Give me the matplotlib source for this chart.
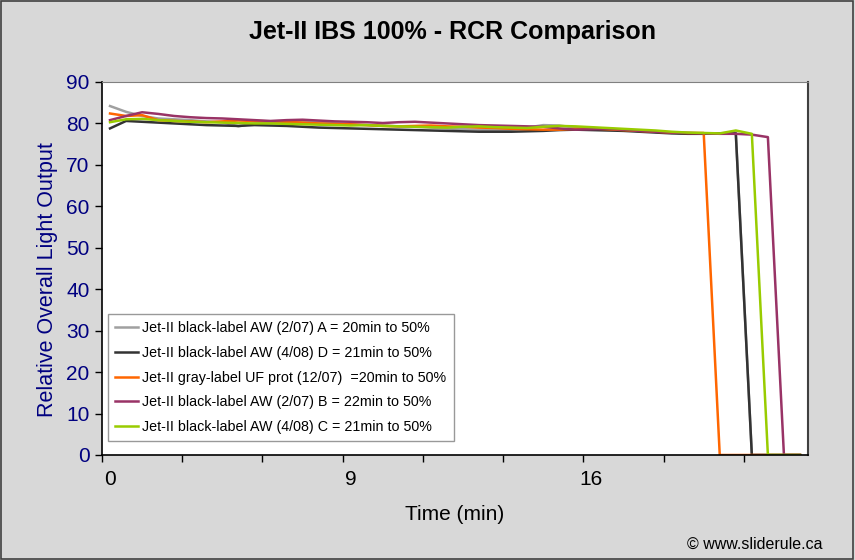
import numpy as np
import matplotlib
matplotlib.use("Agg")
import matplotlib.pyplot as plt
from matplotlib.patches import Rectangle

plt.rcParams['font.family'] = ['Liberation Sans', 'DejaVu Sans']

# time labels shown on the category axis (sample index -> minutes)
label_idx = [0, 15, 30]
label_txt = ['0', '9', '16']

names = [
    'Jet-II black-label AW (2/07) A = 20min to 50%',
    'Jet-II black-label AW (4/08) D = 21min to 50%',
    'Jet-II gray-label UF prot (12/07)  =20min to 50%',
    'Jet-II black-label AW (2/07) B = 22min to 50%',
    'Jet-II black-label AW (4/08) C = 21min to 50%',
]
colors = ['#a0a0a0', '#333333', '#ff6600', '#993366', '#99cc00']

# relative light output per sample (44 samples each)
gray_a = [84.2, 82.8, 81.8, 81.2, 81.0, 80.8, 80.5, 80.3, 79.3, 80.0, 80.2, 80.4, 80.6, 80.3, 80.0,
          79.8, 79.6, 79.5, 79.3, 79.2, 79.0, 78.8, 78.6, 78.5, 78.4, 78.5, 79.0, 79.6, 79.5, 79.0,
          78.8, 78.6, 78.4, 78.2, 78.0, 77.8, 77.6, 77.5, 77.6, 77.8, 0, 0, 0, 0]
black_d = [78.8, 80.6, 80.4, 80.2, 80.0, 79.8, 79.6, 79.5, 79.4, 79.6, 79.5, 79.4, 79.2, 79.0, 78.9,
           78.8, 78.7, 78.6, 78.5, 78.4, 78.3, 78.2, 78.1, 78.0, 78.0, 78.0, 78.1, 78.2, 78.4, 78.5,
           78.4, 78.3, 78.2, 78.0, 77.8, 77.6, 77.5, 77.5, 77.6, 77.6, 0, 0, 0, 0]
orange = [82.4, 81.8, 82.0, 80.8, 80.6, 80.5, 80.3, 80.5, 80.7, 80.6, 80.5, 80.4, 80.2, 80.0, 79.9,
          79.8, 79.6, 79.4, 79.3, 79.4, 79.5, 79.3, 79.2, 79.0, 78.9, 78.7, 78.6, 78.5, 78.5, 78.7,
          78.8, 78.6, 78.4, 78.2, 78.0, 77.8, 77.7, 77.7, 0, 0, 0, 0, 0, 0]
purple_b = [80.8, 81.8, 82.7, 82.3, 81.8, 81.5, 81.3, 81.2, 81.0, 80.8, 80.6, 80.8, 80.9, 80.7, 80.5,
            80.4, 80.3, 80.1, 80.3, 80.4, 80.2, 80.0, 79.8, 79.6, 79.5, 79.4, 79.3, 79.2, 78.8, 78.5,
            78.6, 78.7, 78.5, 78.2, 78.0, 77.8, 77.7, 77.6, 77.5, 77.5, 77.3, 76.7, 0, 0]
green_c = [80.3, 81.0, 81.1, 80.8, 80.6, 80.4, 80.3, 80.2, 80.1, 80.0, 80.0, 79.9, 79.8, 79.7, 79.6,
           79.5, 79.6, 79.4, 79.3, 79.2, 79.1, 79.0, 79.2, 79.3, 79.1, 79.0, 78.9, 79.2, 79.4, 79.3,
           79.1, 78.9, 78.7, 78.5, 78.3, 78.0, 77.8, 77.7, 77.6, 78.3, 77.5, 0, 0, 0]

series = [gray_a, black_d, orange, purple_b, green_c]

fig = plt.figure(figsize=(8.55, 5.6), dpi=100, facecolor='#d8d8d8')
fig.patches.append(Rectangle((0.001, 0.001), 0.997, 0.997, transform=fig.transFigure,
                             fill=False, edgecolor='#404040', lw=1.2))
ax = fig.add_axes([102/855, 1-455/560, 706/855, 373/560])
ax.set_facecolor('white')

for vals, name, c in zip(series, names, colors):
    ax.plot(np.arange(len(vals)), vals, color=c, lw=1.8, label=name)

n = len(gray_a)
ax.set_xlim(-0.5, n - 0.5)
ax.set_ylim(0, 90)
ax.set_yticks(np.arange(0, 91, 10))
ax.tick_params(axis='y', labelsize=15, labelcolor='#000080', length=5, width=1, direction='out', pad=4)

ax.set_xticks(np.arange(-0.5, n - 1, 5))
ax.set_xticklabels([])
ax.tick_params(axis='x', which='major', length=5, width=1, direction='out')
ax.set_xticks(label_idx, minor=True)
ax.set_xticklabels(label_txt, minor=True)
ax.tick_params(axis='x', which='minor', length=0, labelsize=15, pad=11)

for s in ['left', 'bottom']:
    ax.spines[s].set_color('black')
    ax.spines[s].set_linewidth(1.2)
ax.spines['right'].set_color('#404040')
ax.spines['right'].set_linewidth(1.5)
ax.spines['top'].set_color('#808080')

ax.set_ylabel('Relative Overall Light Output', fontsize=15.5, color='#000080')
ax.yaxis.set_label_coords(-0.063, 0.47)
ax.set_xlabel('Time (min)', fontsize=15, labelpad=11)
fig.text(452/855, 1-32/560, 'Jet-II IBS 100% - RCR Comparison', ha='center', va='center',
         fontsize=18, fontweight='bold')
fig.text(822/855, 1-544/560, '\u00a9 www.sliderule.ca', ha='right', va='center', fontsize=11.5)

leg = ax.legend(loc='lower left', bbox_to_anchor=(0.0085, 0.037), fontsize=10.3, frameon=True,
                fancybox=False, edgecolor='#808080', handlelength=1.6, handletextpad=0.3,
                labelspacing=0.75, borderpad=0.5, borderaxespad=0)
leg.get_frame().set_linewidth(1)

fig.savefig('out.png', dpi=100, facecolor=fig.get_facecolor())
